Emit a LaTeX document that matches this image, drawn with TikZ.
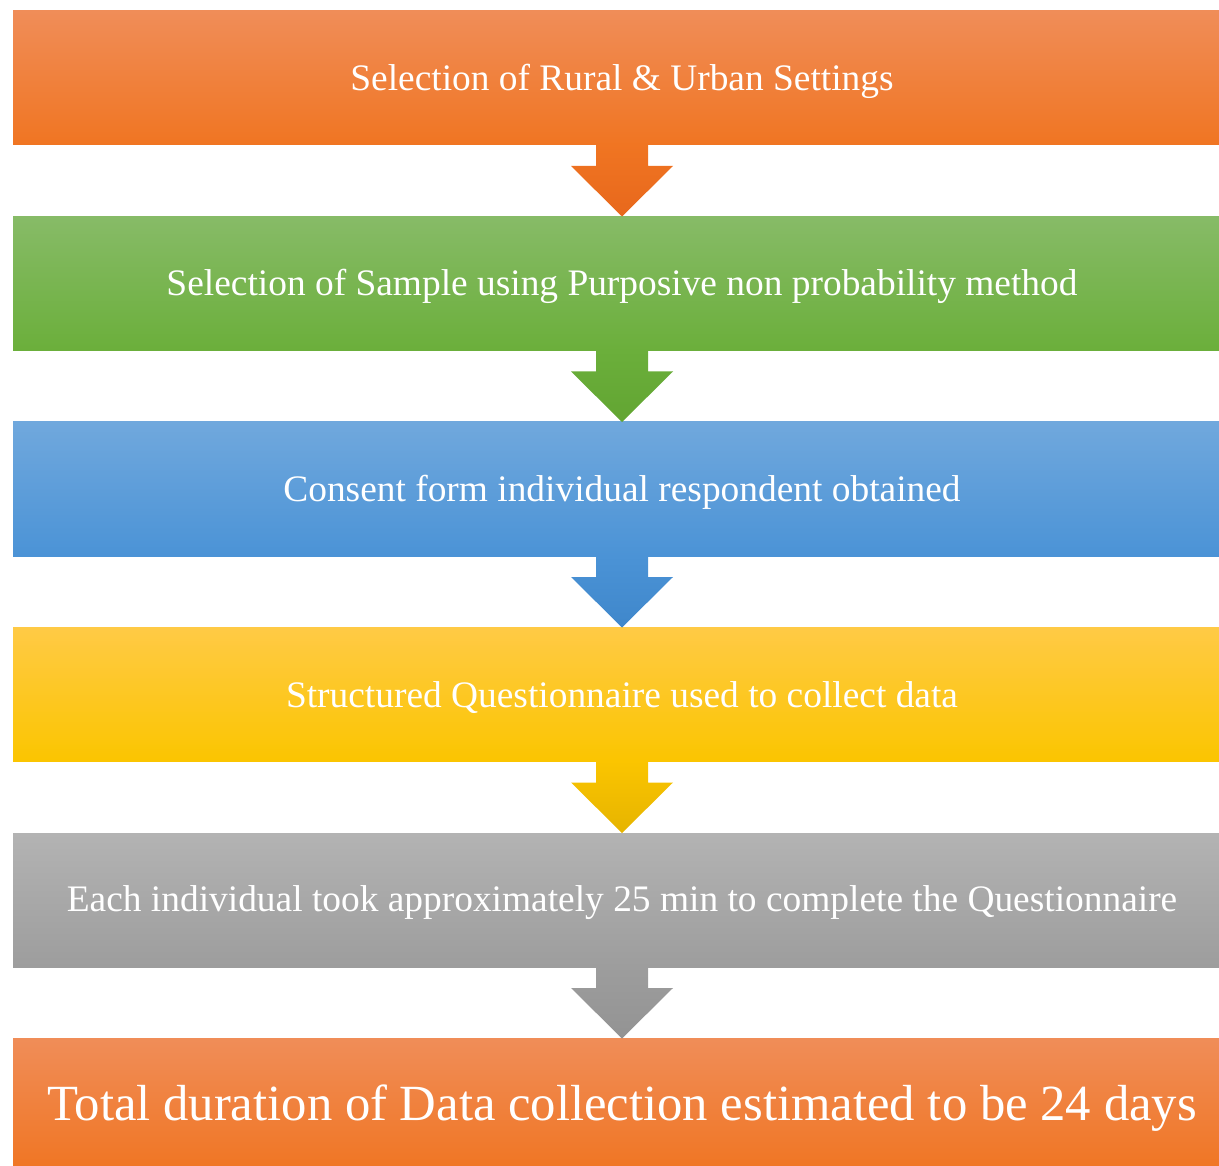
\documentclass[tikz,border=0pt]{standalone}
\usepackage{fontspec}
\setmainfont{Liberation Serif}
\usetikzlibrary{calc}
\definecolor{orT}{HTML}{F08D58}
\definecolor{orB}{HTML}{F07522}
\definecolor{orA}{HTML}{E8681C}
\definecolor{grT}{HTML}{87BB67}
\definecolor{grB}{HTML}{6BAF3B}
\definecolor{grA}{HTML}{62A532}
\definecolor{blT}{HTML}{70A8DD}
\definecolor{blB}{HTML}{4B93D6}
\definecolor{blA}{HTML}{3F87CB}
\definecolor{yeT}{HTML}{FFCA45}
\definecolor{yeB}{HTML}{FBC500}
\definecolor{yeA}{HTML}{E6B400}
\definecolor{gyT}{HTML}{B3B3B3}
\definecolor{gyB}{HTML}{9D9D9D}
\definecolor{gyA}{HTML}{939393}
\newcommand{\lowered}[1]{\raisebox{0pt}[\dimexpr\height+6pt\relax][\depth]{#1}}
\tikzset{
  stepbox/.style={minimum width=1218pt, minimum height=134pt, inner sep=0pt, outer sep=0pt,
    text=white, font=\fontsize{37.4}{42}\selectfont, anchor=north},
  flowarrow/.style={draw=none},
}
\begin{document}
\begin{tikzpicture}[x=1pt,y=-1pt]
\useasboundingbox (0,0) rectangle (1219,1166);
\clip (0,0) rectangle (1219,1166);
\node[stepbox, top color=orT, bottom color=orB] (b1) at (622,11) {\lowered{Selection of Rural \& Urban Settings}};
\node[stepbox, top color=grT, bottom color=grB] (b2) at (622,216.5) {\lowered{Selection of Sample using Purposive non probability method}};
\node[stepbox, top color=blT, bottom color=blB] (b3) at (622,422) {\lowered{Consent form individual respondent obtained}};
\node[stepbox, top color=yeT, bottom color=yeB] (b4) at (622,627.5) {\lowered{Structured Questionnaire used to collect data}};
\node[stepbox, top color=gyT, bottom color=gyB] (b5) at (622,833) {\lowered{Each individual took approximately 25 min to complete the Questionnaire}};
\node[stepbox, top color=orT, bottom color=orB, font=\fontsize{50.7}{58}\selectfont] (b6) at (622,1038.5) {\lowered{Total duration of Data collection estimated to be 24 days}};
\foreach \a/\b/\ct/\cb in {b1/b2/orB/orA, b2/b3/grB/grA, b3/b4/blB/blA, b4/b5/yeB/yeA, b5/b6/gyB/gyA}{
  \path[flowarrow, top color=\ct, bottom color=\cb]
    ($(\a.south)+(-26,-1)$) -- ($(\a.south)+(-26,21)$) -- ($(\a.south)+(-51,21)$)
    -- (\b.north)
    -- ($(\a.south)+(51,21)$) -- ($(\a.south)+(26,21)$) -- ($(\a.south)+(26,-1)$) -- cycle;
}
\end{tikzpicture}
\end{document}
